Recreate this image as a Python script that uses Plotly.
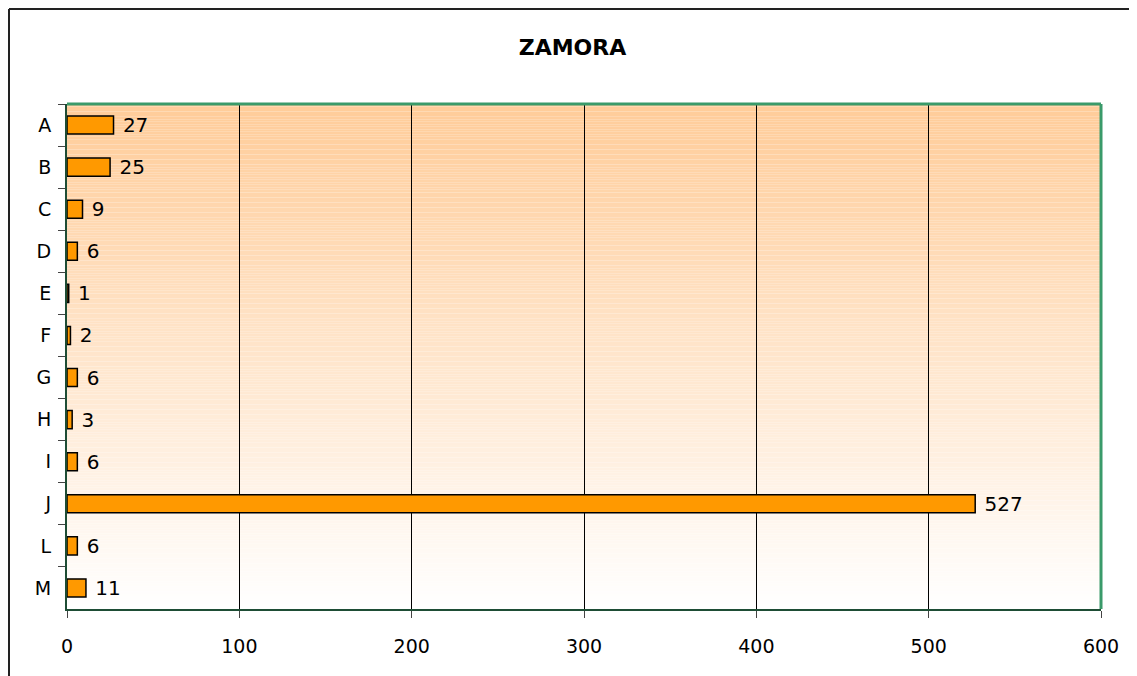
import plotly.graph_objects as go

# ---- data ------------------------------------------------------------------
categories = ["A", "B", "C", "D", "E", "F", "G", "H", "I", "J", "L", "M"]
values = [27, 25, 9, 6, 1, 2, 6, 3, 6, 527, 6, 11]
x_ticks = [0, 100, 200, 300, 400, 500, 600]

TITLE = "ZAMORA"
BAR_COLOR = "#FF9900"
GRAD_TOP = (255, 204, 153)
GRAD_BOTTOM = (255, 255, 255)
FONT = "DejaVu Sans"

# the page body adds an 8px offset, so the figure is 8px smaller and margins shifted
OFF = 8
W, H = 1137 - OFF, 676 - OFF
M_L, M_R, M_T, M_B = 67 - OFF, 36, 104 - OFF, 67

fig = go.Figure(go.Bar(
    x=values, y=categories, orientation="h",
    marker=dict(color=BAR_COLOR, line=dict(color="black", width=1.5)),
    text=[f" {v}" for v in values], textposition="outside", constraintext="none",
    textfont=dict(family=FONT, size=20, color="black"),
    cliponaxis=False,
))

# vertical gradient behind the plot area (peach at top fading to white)
n_bands = 200
shapes = []
for i in range(n_bands):
    t = i / (n_bands - 1)
    r, g, b = (round(GRAD_TOP[k] + (GRAD_BOTTOM[k] - GRAD_TOP[k]) * t) for k in range(3))
    shapes.append(dict(type="rect", xref="paper", yref="paper", layer="below",
                       x0=0, x1=1, y0=1 - (i + 1) / n_bands, y1=1 - i / n_bands,
                       fillcolor=f"rgb({r},{g},{b})", line=dict(width=0)))

# green frame on top and right of the plot area
green = dict(color="#3A9A6A", width=3)
shapes.append(dict(type="line", xref="paper", yref="paper", layer="above",
                   x0=0, x1=1, y0=1, y1=1, line=green))
shapes.append(dict(type="line", xref="paper", yref="paper", layer="above",
                   x0=1, x1=1, y0=0, y1=1, line=green))
# outer black chart border: only its top and left edges fall inside the picture
pw, ph = W - M_L - M_R, H - M_T - M_B
bx0, by0 = (1 - M_L) / pw, (H - M_B - 1) / ph
border = dict(color="#222222", width=2)
shapes.append(dict(type="line", xref="paper", yref="paper", layer="above",
                   x0=bx0, x1=(W - M_L) / pw, y0=by0, y1=by0, line=border))
shapes.append(dict(type="line", xref="paper", yref="paper", layer="above",
                   x0=bx0, x1=bx0, y0=by0, y1=-M_B / ph, line=border))

fig.update_layout(
    width=W, height=H,
    margin=dict(l=M_L, r=M_R, t=M_T, b=M_B, autoexpand=False),
    paper_bgcolor="white", plot_bgcolor="white",
    title=dict(text=f"<b>{TITLE}</b>", x=0.5, xanchor="center", y=1 - (47 - OFF) / H,
               yanchor="middle", font=dict(family=FONT, size=22, color="black")),
    bargap=0.57, showlegend=False, shapes=shapes,
    font=dict(family=FONT, size=19, color="black"),
)
fig.update_xaxes(range=[0, 600], tickvals=x_ticks, showgrid=True, gridcolor="black", gridwidth=1,
                 zeroline=False, showline=True, linecolor="#1E4D35", linewidth=2,
                 ticks="outside", ticklen=7, tickcolor="#444444", ticklabelstandoff=12,
                 automargin=False, tickfont=dict(family=FONT, size=19, color="black"))
fig.update_yaxes(autorange="reversed", showgrid=False, showline=True, linecolor="#1E4D35",
                 linewidth=2, ticks="outside", ticklen=7, tickcolor="#444444",
                 tickson="boundaries", ticklabelstandoff=10, automargin=False,
                 tickfont=dict(family=FONT, size=19, color="black"))

fig.write_html("out.html")
